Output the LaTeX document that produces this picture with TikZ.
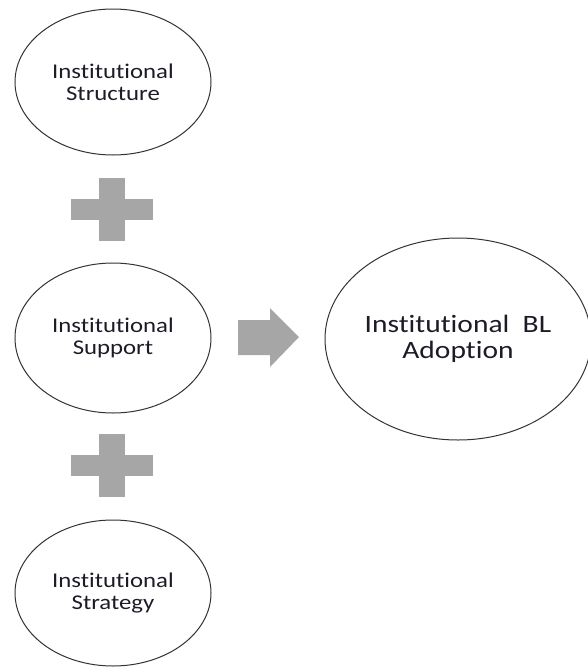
\documentclass[tikz,border=0pt]{standalone}
\usepackage{fontspec}
\usetikzlibrary{shapes.geometric}
\newfontfamily\lblfont[FakeStretch=1.18, Ligatures=NoCommon, RawFeature=-liga;-dlig]{Carlito}
\definecolor{signgray}{HTML}{A6A6A6}
\definecolor{lbltext}{HTML}{1C1C28}
\tikzset{
  factor/.style={ellipse, draw=black!80, line width=1pt, inner sep=0pt,
    minimum width=196pt, minimum height=146pt, align=center, text=lbltext,
    font=\lblfont\fontsize{21}{22}\selectfont},
  outcome/.style={factor, minimum width=266pt, minimum height=202pt,
    font=\lblfont\fontsize{25}{26}\selectfont},
  sign/.style={fill=signgray}
}
\begin{document}
\begin{tikzpicture}[x=1pt, y=-1pt]
\useasboundingbox (0,0) rectangle (587,667);

\node[factor] (structure) at (113, 82) {Institutional\\Structure};
\node[factor, minimum height=150pt] (support) at (113, 338) {Institutional\\Support};
\node[factor] (strategy) at (113, 593) {Institutional\\Strategy};
\node[outcome] (adoption) at (458, 339) {Institutional~~BL\\Adoption};

% plus signs between the factors
\foreach \y in {210, 466} {
  \fill[sign] (99, \y-32) rectangle (125, \y+31);
  \fill[sign] (71, \y-11) rectangle (153, \y+10);
}

% block arrow towards the outcome
\fill[sign] (238, 320) -- (270, 320) -- (270, 308) -- (299, 337)
  -- (270, 367) -- (270, 355) -- (238, 355) -- cycle;
\end{tikzpicture}
\end{document}
